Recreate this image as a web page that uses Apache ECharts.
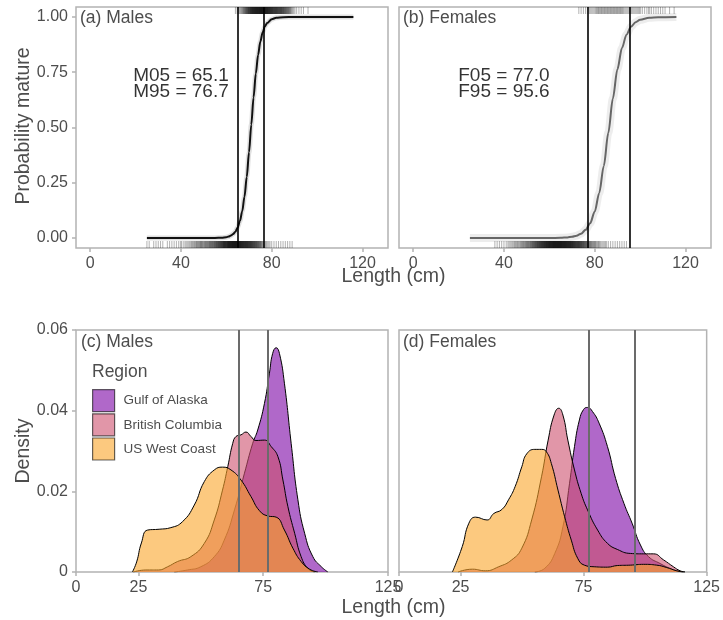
<!DOCTYPE html>
<html>
<head>
<meta charset="utf-8">
<script src="https://cdn.jsdelivr.net/npm/echarts@6/dist/echarts.min.js"></script>
<style>
  html, body { margin: 0; padding: 0; background: #ffffff; }
  #chart { width: 723px; height: 620px; }
</style>
</head>
<body>
<div id="chart"></div>
<script>
// ---------- Maturity ogives (probability mature vs length) ----------
const maleCurveLen = [25, 50, 55, 58, 60, 61, 62, 63, 64, 65, 66, 67, 68, 69, 70, 71, 72, 73, 74, 75, 76, 77, 78, 80, 82, 85, 90, 116];
const maleCurveP   = [0, 0, 0.0003, 0.0014, 0.004, 0.0066, 0.011, 0.018, 0.029, 0.048, 0.077, 0.121, 0.187, 0.276, 0.388, 0.513, 0.636, 0.744, 0.828, 0.889, 0.930, 0.957, 0.973, 0.990, 0.996, 0.999, 1, 1];

const femaleCurveLen = [25, 50, 60, 65, 68, 70, 72, 74, 76, 78, 80, 82, 84, 86, 88, 90, 92, 94, 96, 98, 100, 104, 108, 116];
const femaleCurveP   = [0, 0, 0.0002, 0.001, 0.003, 0.0057, 0.0107, 0.020, 0.037, 0.067, 0.120, 0.204, 0.326, 0.476, 0.631, 0.763, 0.859, 0.920, 0.956, 0.976, 0.987, 0.996, 0.999, 1];

// Lengths at 5% and 95% maturity
const maleL50s   = [65.1, 76.7];
const femaleL50s = [77.0, 95.6];
const maleNote   = 'M05 = 65.1\nM95 = 76.7';
const femaleNote = 'F05 = 77.0\nF95 = 95.6';

// Rug observations: fish counted per 1 cm length bin
const maleImmLen = [25,26,28,29,30,31,32,34,35,36,37,38,39,40,41,42,43,44,45,46,47,48,49,50,51,52,53,54,55,56,57,58,59,60,61,62,63,64,65,66,67,68,69,70,71,72,73,74,75,76,77,78,79,80,81,82,83,84,85,86,87,88,89];
const maleImmCnt = [1,1,1,1,1,1,1,1,1,1,1,1,1,2,1,2,2,2,3,3,4,4,5,4,5,5,6,6,7,8,9,10,12,12,14,14,15,15,14,14,13,12,12,11,10,9,8,7,6,4,3,2,2,1,1,1,1,1,1,1,1,1,1];
const maleMatLen = [64,65,66,67,68,69,70,71,72,73,74,75,76,77,78,79,80,81,82,83,84,85,86,87,88,89,90,91,92,93,94,96];
const maleMatCnt = [1,2,3,4,6,8,10,12,13,14,14,15,15,14,13,12,11,10,10,9,9,8,7,6,5,3,2,1,1,1,1,1];

const femaleImmLen = [36,37,38,39,40,41,42,43,44,45,46,47,48,49,50,51,52,53,54,55,56,57,58,59,60,61,62,63,64,65,66,67,68,69,70,71,72,73,74,75,76,77,78,79,80,81,82,83,84,85,86,87,88,89,90,91,92,93,94];
const femaleImmCnt = [1,1,1,1,1,1,2,2,2,3,3,3,4,4,5,5,6,7,8,9,10,11,12,13,14,14,15,15,15,15,14,14,13,13,12,11,10,10,9,8,7,6,5,4,4,3,3,2,2,2,1,1,1,1,1,1,1,1,1];
const femaleMatLen = [73,74,75,76,77,78,79,80,81,82,83,84,85,86,87,88,89,90,91,92,93,94,95,96,97,98,99,100,101,102,103,104,105,106,107,108,109,110,111,113,115];
const femaleMatCnt = [1,1,1,1,1,2,2,2,3,3,3,3,3,3,3,3,3,3,3,3,2,2,2,2,2,2,2,2,1,1,1,2,1,1,1,1,1,1,1,1,1];

// ---------- Length densities by region ----------
const regions = ['Gulf of Alaska', 'British Columbia', 'US West Coast'];
const regionColors = ['#7B03A5', '#CD506E', '#FAA52A'];

const maleGoaLen = [39.4, 44.7, 50.0, 55.4, 59.4, 63.5, 67.5, 70.8, 72.8, 75.5, 77.5, 78.8, 80.2, 81.5, 83.5, 86.2, 88.9, 91.6, 94.9, 98.3, 100.9];
const maleGoaDen = [0, 0.0005, 0.0013, 0.0038, 0.0079, 0.0154, 0.0245, 0.0319, 0.0352, 0.0418, 0.0493, 0.0542, 0.0556, 0.0542, 0.0468, 0.0319, 0.0179, 0.0096, 0.0038, 0.0013, 0];
const maleBcLen = [23.0, 28.0, 33.0, 36.7, 40.7, 46.0, 51.4, 55.4, 58.7, 60.8, 62.8, 64.1, 66.1, 68.1, 70.1, 72.1, 75.5, 78.2, 80.9, 82.9, 84.9, 87.6, 90.2, 92.9, 95.6];
const maleBcDen = [0, 0.0005, 0.0005, 0.0013, 0.0026, 0.0038, 0.0071, 0.0129, 0.0203, 0.0261, 0.0319, 0.0336, 0.034, 0.0347, 0.0336, 0.0326, 0.0327, 0.0311, 0.0286, 0.0228, 0.0162, 0.0096, 0.0038, 0.0009, 0];
const maleUsLen = [22.6, 24.3, 26.2, 28.7, 33.3, 38.0, 42.7, 47.4, 51.4, 55.4, 58.7, 62.1, 66.1, 70.1, 73.5, 76.8, 80.2, 83.5, 86.9, 90.2, 93.6, 96.9];
const maleUsDen = [0, 0.0025, 0.0072, 0.0104, 0.0106, 0.011, 0.0125, 0.0166, 0.0224, 0.0253, 0.026, 0.0253, 0.0228, 0.0187, 0.0152, 0.0139, 0.0136, 0.0104, 0.0059, 0.0026, 0.0007, 0];

const femaleGoaLen = [55.2, 59.2, 63.3, 66.6, 69.3, 71.3, 73.3, 75.0, 76.6, 78.6, 81.3, 84.7, 88.0, 91.4, 94.7, 98.1, 101.4, 106.1, 110.1, 113.5, 116.2];
const femaleGoaDen = [0, 0.0009, 0.0046, 0.0112, 0.022, 0.0311, 0.0377, 0.0403, 0.0408, 0.0398, 0.0369, 0.0311, 0.0232, 0.017, 0.0121, 0.0067, 0.0038, 0.0021, 0.0009, 0.0002, 0];
const femaleBcLen = [24.0, 29.8, 35.1, 40.5, 45.8, 49.9, 53.9, 57.9, 60.6, 63.0, 64.9, 66.6, 68.6, 71.3, 74.0, 76.6, 80.7, 84.7, 88.7, 94.0, 99.4, 103.4, 107.5, 111.5, 114.2, 116.2];
const femaleBcDen = [0, 0.0007, 0.0003, 0.0013, 0.003, 0.0059, 0.0129, 0.0236, 0.0327, 0.0389, 0.0406, 0.0389, 0.0327, 0.0253, 0.0195, 0.0154, 0.0104, 0.0071, 0.0056, 0.0046, 0.0045, 0.0045, 0.003, 0.0013, 0.0003, 0];
const femaleUsLen = [21.7, 25.7, 28.4, 31.1, 35.8, 38.5, 41.8, 44.5, 47.2, 49.9, 51.9, 55.2, 57.9, 59.9, 61.9, 64.6, 67.3, 70.0, 72.6, 75.3, 79.3, 84.7, 88.7, 94.0, 99.4, 104.7, 108.8, 112.8, 115.5];
const femaleUsDen = [0, 0.0063, 0.0121, 0.0136, 0.0129, 0.0145, 0.0155, 0.0179, 0.0212, 0.0261, 0.0293, 0.0304, 0.0304, 0.0298, 0.0269, 0.0203, 0.0137, 0.0079, 0.0034, 0.0017, 0.0013, 0.0012, 0.0016, 0.0017, 0.0019, 0.0017, 0.0011, 0.0003, 0];

// ---------- Axis ticks ----------
const lenTicksTop = [0, 40, 80, 120];
const probTicks = [0, 0.25, 0.5, 0.75, 1];
const lenTicksBottom = [0, 25, 75, 125];

// ---------- helpers ----------
const zip = (xs, ys) => xs.map((x, i) => [x, ys[i]]);
const GREY_TEXT = '#4d4d4d';
const GREY_LINE = '#b3b3b3';
const FONT = '"Liberation Sans", Arial, sans-serif';

function rugRender(side) {
  return function (params, api) {
    const len = api.value(0);
    const n = api.value(1);
    const cs = params.coordSys;
    const h = 7;
    const y0 = side === 'bottom' ? cs.y + cs.height - h : cs.y;
    const children = [];
    for (let i = 0; i < n; i++) {
      const off = n > 1 ? (i + 0.5) / n - 0.5 : 0;
      const p = api.coord([len + off, 0]);
      children.push({
        type: 'rect',
        shape: { x: p[0] - 0.5, y: y0, width: 1, height: h },
        style: { fill: 'rgba(0,0,0,0.3)' }
      });
    }
    return { type: 'group', children: children };
  };
}

function rugSeries(gi, lens, cnts, side) {
  return {
    type: 'custom', xAxisIndex: gi, yAxisIndex: gi,
    data: zip(lens, cnts), renderItem: rugRender(side),
    silent: true, z: 1
  };
}

function ogiveSeries(gi, lens, ps, color, hazeWidth, hazeAlpha, lines) {
  const data = zip(lens, ps);
  return [
    { type: 'line', xAxisIndex: gi, yAxisIndex: gi, data: data, smooth: 0.3, smoothMonotone: 'x',
      symbol: 'none', silent: true, z: 2,
      lineStyle: { color: 'rgba(0,0,0,' + hazeAlpha + ')', width: hazeWidth } },
    { type: 'line', xAxisIndex: gi, yAxisIndex: gi, data: data, smooth: 0.3, smoothMonotone: 'x',
      symbol: 'none', silent: true, z: 3,
      lineStyle: { color: color, width: 2 },
      markLine: {
        silent: true, symbol: ['none', 'none'], label: { show: false },
        lineStyle: { color: '#000000', width: 1.6, type: 'solid' },
        emphasis: { disabled: true },
        data: lines.map(v => ({ xAxis: v }))
      } }
  ];
}

function noteSeries(gi, text) {
  return {
    type: 'scatter', xAxisIndex: gi, yAxisIndex: gi, data: [[40, 0.7]],
    symbolSize: 1, itemStyle: { color: 'rgba(0,0,0,0)' }, silent: true, z: 5,
    label: {
      show: true, position: 'inside', formatter: text,
      color: '#000000', fontSize: 19, lineHeight: 16, fontFamily: FONT, align: 'center'
    }
  };
}

function densitySeries(gi, lens, dens, idx) {
  return {
    name: regions[idx], type: 'line', xAxisIndex: gi, yAxisIndex: gi,
    data: zip(lens, dens), smooth: 0.5, symbol: 'none', silent: true,
    z: 2 + idx,
    itemStyle: { color: regionColors[idx] },
    lineStyle: { color: '#000000', width: 1 },
    areaStyle: { color: regionColors[idx], opacity: 0.6 }
  };
}

function vlineSeries(gi, lines) {
  return {
    type: 'line', xAxisIndex: gi, yAxisIndex: gi, data: [], silent: true, z: 6,
    markLine: {
      silent: true, symbol: ['none', 'none'], label: { show: false },
      lineStyle: { color: '#6b6b6b', width: 2, type: 'solid' },
      emphasis: { disabled: true },
      data: lines.map(v => ({ xAxis: v }))
    }
  };
}

const tickStyle = { length: 4, lineStyle: { color: GREY_LINE, width: 1.5 } };
const labelStyle = { color: GREY_TEXT, fontSize: 16, fontFamily: FONT };
const noLine = { show: false, onZero: false };

function xTop(gi) {
  return { type: 'value', gridIndex: gi, min: -6.25, max: 131.25, position: 'bottom',
    axisLine: noLine, splitLine: { show: false },
    axisTick: Object.assign({ show: true, customValues: lenTicksTop }, tickStyle),
    axisLabel: Object.assign({ customValues: lenTicksTop, margin: 8 }, labelStyle) };
}
function yTop(gi, showLabels) {
  return { type: 'value', gridIndex: gi, min: -0.045, max: 1.045, position: 'left',
    axisLine: noLine, splitLine: { show: false },
    axisTick: Object.assign({ show: showLabels, customValues: probTicks }, tickStyle),
    axisLabel: Object.assign({ show: showLabels, customValues: probTicks, margin: 8,
      formatter: v => v.toFixed(2) }, labelStyle) };
}
function xBottom(gi) {
  return { type: 'value', gridIndex: gi, min: 0, max: 125, position: 'bottom',
    axisLine: noLine, splitLine: { show: false },
    axisTick: Object.assign({ show: true, customValues: lenTicksBottom }, tickStyle),
    axisLabel: Object.assign({ customValues: lenTicksBottom, margin: 8 }, labelStyle) };
}
function yBottom(gi, showLabels) {
  return { type: 'value', gridIndex: gi, min: 0, max: 0.06, interval: 0.02, position: 'left',
    axisLine: noLine, splitLine: { show: false },
    axisTick: Object.assign({ show: showLabels }, tickStyle),
    axisLabel: Object.assign({ show: showLabels, margin: 8,
      formatter: v => (v === 0 ? '0' : v.toFixed(2)) }, labelStyle) };
}

const gridBase = { show: true, borderColor: GREY_LINE, borderWidth: 1.5, backgroundColor: 'transparent', containLabel: false };

function txt(x, y, text, opts) {
  return { type: 'text', x: x, y: y, silent: true,
    rotation: (opts && opts.rotation) || 0,
    style: Object.assign({ text: text, fill: GREY_TEXT, fontSize: 17.5, fontFamily: FONT,
      align: 'left', verticalAlign: 'middle' }, (opts && opts.style) || {}) };
}

const chart = echarts.init(document.getElementById('chart'), null, { renderer: 'canvas' });

chart.setOption({
  animation: false,
  backgroundColor: '#ffffff',
  textStyle: { fontFamily: FONT },
  grid: [
    Object.assign({ left: 76, top: 7, width: 312, height: 241 }, gridBase),
    Object.assign({ left: 399, top: 7, width: 312, height: 241 }, gridBase),
    Object.assign({ left: 76, top: 330, width: 312, height: 242 }, gridBase),
    Object.assign({ left: 399, top: 330, width: 312, height: 242 }, gridBase)
  ],
  xAxis: [xTop(0), xTop(1), xBottom(2), xBottom(3)],
  yAxis: [yTop(0, true), yTop(1, false), yBottom(2, true), yBottom(3, false)],
  legend: {
    show: true, orient: 'vertical', left: 92, top: 389, padding: 0,
    itemWidth: 22, itemHeight: 22, itemGap: 1, selectedMode: false,
    textStyle: { color: GREY_TEXT, fontSize: 13.5, fontFamily: FONT, padding: [0, 0, 0, 4] },
    data: regions.map((r, i) => ({
      name: r, icon: 'rect',
      itemStyle: { color: regionColors[i], opacity: 0.6, borderColor: '#000000', borderWidth: 1.2 }
    }))
  },
  graphic: [
    txt(80, 18, '(a) Males'),
    txt(403, 18, '(b) Females'),
    txt(81, 342, '(c) Males'),
    txt(403, 342, '(d) Females'),
    txt(92, 372, 'Region'),
    txt(393.5, 277, 'Length (cm)', { style: { align: 'center', fontSize: 19.5 } }),
    txt(393.5, 608, 'Length (cm)', { style: { align: 'center', fontSize: 19.5 } }),
    txt(24, 126, 'Probability mature', { rotation: Math.PI / 2, style: { align: 'center', fontSize: 19.5 } }),
    txt(24, 451, 'Density', { rotation: Math.PI / 2, style: { align: 'center', fontSize: 19.5 } })
  ],
  series: [
    rugSeries(0, maleImmLen, maleImmCnt, 'bottom'),
    rugSeries(0, maleMatLen, maleMatCnt, 'top'),
    ...ogiveSeries(0, maleCurveLen, maleCurveP, '#111111', 5, 0.12, maleL50s),
    noteSeries(0, maleNote),

    rugSeries(1, femaleImmLen, femaleImmCnt, 'bottom'),
    rugSeries(1, femaleMatLen, femaleMatCnt, 'top'),
    ...ogiveSeries(1, femaleCurveLen, femaleCurveP, '#666666', 8, 0.07, femaleL50s),
    noteSeries(1, femaleNote),

    densitySeries(2, maleGoaLen, maleGoaDen, 0),
    densitySeries(2, maleBcLen, maleBcDen, 1),
    densitySeries(2, maleUsLen, maleUsDen, 2),
    vlineSeries(2, maleL50s),

    densitySeries(3, femaleGoaLen, femaleGoaDen, 0),
    densitySeries(3, femaleBcLen, femaleBcDen, 1),
    densitySeries(3, femaleUsLen, femaleUsDen, 2),
    vlineSeries(3, femaleL50s)
  ]
});
</script>
</body>
</html>
